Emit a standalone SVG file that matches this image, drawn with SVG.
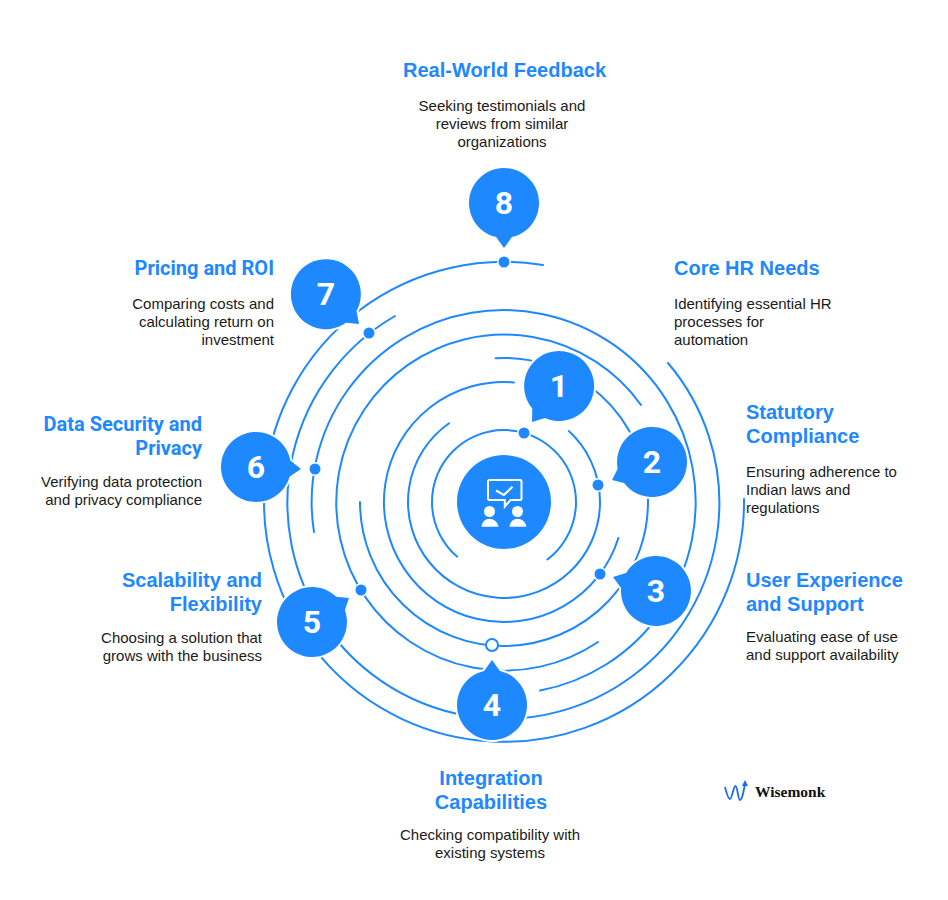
<svg xmlns="http://www.w3.org/2000/svg" width="948" height="900" viewBox="0 0 948 900">
<style>
.ring{fill:none;stroke:#1e88ff;stroke-width:2;stroke-linecap:round}
.dot{fill:#1e88ff;stroke:#fff;stroke-width:3;paint-order:stroke}
.bub{fill:#1e88ff;stroke:#fff;stroke-width:4;paint-order:stroke;stroke-linejoin:round}
.num{font-family:Roboto,"Liberation Sans",sans-serif;font-weight:700;font-size:32px;fill:#fff;text-anchor:middle}
.h{font-family:Roboto,"Liberation Sans",sans-serif;font-weight:700;font-size:20px;fill:#1e88ff}
.hl{font-family:"Liberation Sans",Arial,sans-serif;font-weight:700;font-size:20px;fill:#1e88ff}
.bl{font-family:"Liberation Sans",Arial,sans-serif;font-size:15px;fill:#1a1a1a}
.m{text-anchor:middle}.e{text-anchor:end}
</style>
<rect width="948" height="900" fill="#fff"/>
<g id="connectors">
<path class="ring" d="M457 556.6A72 72 0 1 1 547.4 559.5"/>
<path class="ring" d="M449.1 423.2A96 96 0 1 0 568.8 431.1"/>
<path class="ring" d="M514 382.4A120 120 0 1 0 618.4 538"/>
<path class="ring" d="M360 502A144 144 0 1 0 495.6 358.2"/>
<path class="ring" d="M641 405A168 168 0 1 0 598 642"/>
<path class="ring" d="M314 532A192 192 0 1 1 540 690.6"/>
<path class="ring" d="M395 316A216 216 0 1 0 668 363"/>
<path class="ring" d="M543 265A240 240 0 1 0 744 499"/>
<circle class="dot" cx="524" cy="433" r="5.5"/>
<circle class="dot" cx="598" cy="485" r="5.5"/>
<circle class="dot" cx="600" cy="574" r="5.5"/>
<circle cx="492" cy="645" r="6" fill="#fff" stroke="#1e88ff" stroke-width="2"/>
<circle class="dot" cx="361" cy="590" r="5.5"/>
<circle class="dot" cx="315" cy="469" r="5.5"/>
<circle class="dot" cx="369" cy="333" r="5.5"/>
<circle class="dot" cx="504" cy="262" r="5.5"/>
</g>
<g id="center">
<circle cx="504" cy="502" r="47" fill="#1e88ff"/>
<path d="M489.5 480H520a1.5 1.5 0 0 1 1.500 1.500V498.500a1.500 1.500 0 0 1-1.500 1.500H510.500L504.800 506.500V500H489.500a1.500 1.500 0 0 1-1.500-1.500V481.500a1.500 1.500 0 0 1 1.500-1.500Z" fill="none" stroke="#fff" stroke-width="2"/>
<path d="M496 490.500L503.800 495L512.500 486.800" fill="none" stroke="#fff" stroke-width="2.200"/>
<circle cx="489.500" cy="511.500" r="5.500" fill="#fff"/>
<circle cx="517.500" cy="511.500" r="5.500" fill="#fff"/>
<path d="M481.500 526.800C482 521.500 485.500 518.800 489.500 518.800S497.500 521.500 498.500 526.800Z" fill="#fff"/>
<path d="M509.500 526.800C510 521.500 513.500 518.800 517.500 518.800S525.500 521.500 526.500 526.800Z" fill="#fff"/>
</g>
<g id="node-1">
<path class="bub" d="M532 422L532.300 408.500A35 35 0 1 1 544.900 418Z"/>
<text class="num" x="559" y="397">1</text>
<text class="hl" x="674" y="275">Core HR Needs</text>
<text class="bl" x="674" y="309">Identifying essential HR</text>
<text class="bl" x="674" y="327">processes for</text>
<text class="bl" x="674" y="345">automation</text>
</g>
<g id="node-2">
<path class="bub" d="M612 480L617.700 468.800A35 35 0 1 1 624.100 483.100Z"/>
<text class="num" x="652" y="473">2</text>
<text class="hl" x="746" y="419">Statutory</text>
<text class="hl" x="746" y="443">Compliance</text>
<text class="bl" x="746" y="477">Ensuring adherence to</text>
<text class="bl" x="746" y="495">Indian laws and</text>
<text class="bl" x="746" y="513">regulations</text>
</g>
<g id="node-3">
<path class="bub" d="M613 577L626 572.900A35 35 0 1 1 621.100 587.900Z"/>
<text class="num" x="656" y="602">3</text>
<text class="hl" x="746" y="587">User Experience</text>
<text class="hl" x="746" y="611">and Support</text>
<text class="bl" x="746" y="642">Evaluating ease of use</text>
<text class="bl" x="746" y="660">and support availability</text>
</g>
<g id="node-4">
<path class="bub" d="M492 660L499.900 670.900A35 35 0 1 1 484.100 670.900Z"/>
<text class="num" x="492" y="716">4</text>
<text class="hl m" x="491" y="785">Integration</text>
<text class="hl m" x="491" y="809">Capabilities</text>
<text class="bl m" x="490" y="840">Checking compatibility with</text>
<text class="bl m" x="490" y="858">existing systems</text>
</g>
<g id="node-5">
<path class="bub" d="M349 598L344.900 610.100A35 35 0 1 1 336.300 596.800Z"/>
<text class="num" x="312" y="633">5</text>
<text class="hl e" x="262" y="587">Scalability and</text>
<text class="hl e" x="262" y="611">Flexibility</text>
<text class="bl e" x="262" y="643">Choosing a solution that</text>
<text class="bl e" x="262" y="661">grows with the business</text>
</g>
<g id="node-6">
<path class="bub" d="M301 469L289.700 476.400A35 35 0 1 1 290.400 460.600Z"/>
<text class="num" x="256" y="478">6</text>
<text class="h e" x="202" y="431">Data Security and</text>
<text class="h e" x="202" y="455">Privacy</text>
<text class="bl e" x="202" y="486.500">Verifying data protection</text>
<text class="bl e" x="202" y="504.500">and privacy compliance</text>
</g>
<g id="node-7">
<path class="bub" d="M359 324L346 322.800A35 35 0 1 1 356.500 311.100Z"/>
<text class="num" x="326" y="305">7</text>
<text class="h e" x="274" y="275">Pricing and ROI</text>
<text class="bl e" x="274" y="309">Comparing costs and</text>
<text class="bl e" x="274" y="327">calculating return on</text>
<text class="bl e" x="274" y="345">investment</text>
</g>
<g id="node-8">
<path class="bub" d="M504 248L496.100 237.100A35 35 0 1 1 511.900 237.100Z"/>
<text class="num" x="504" y="214">8</text>
<text class="hl m" x="504.500" y="77">Real-World Feedback</text>
<text class="bl m" x="502" y="111">Seeking testimonials and</text>
<text class="bl m" x="502" y="129">reviews from similar</text>
<text class="bl m" x="502" y="147">organizations</text>
</g>
<g id="logo">
<path d="M725 787C727 795 728.500 799 730 799C732 799 733.500 786 735.500 786C737.500 786 738 800 740 800C742 800 743.500 792 745 784" fill="none" stroke="#1a6cf0" stroke-width="1.800"/>
<path d="M745 780L742 786H748Z" fill="#1a6cf0"/>
<text x="755" y="797" font-family="'Liberation Serif',serif" font-weight="700" font-size="15.500px" fill="#111">Wisemonk</text>
</g>
</svg>
